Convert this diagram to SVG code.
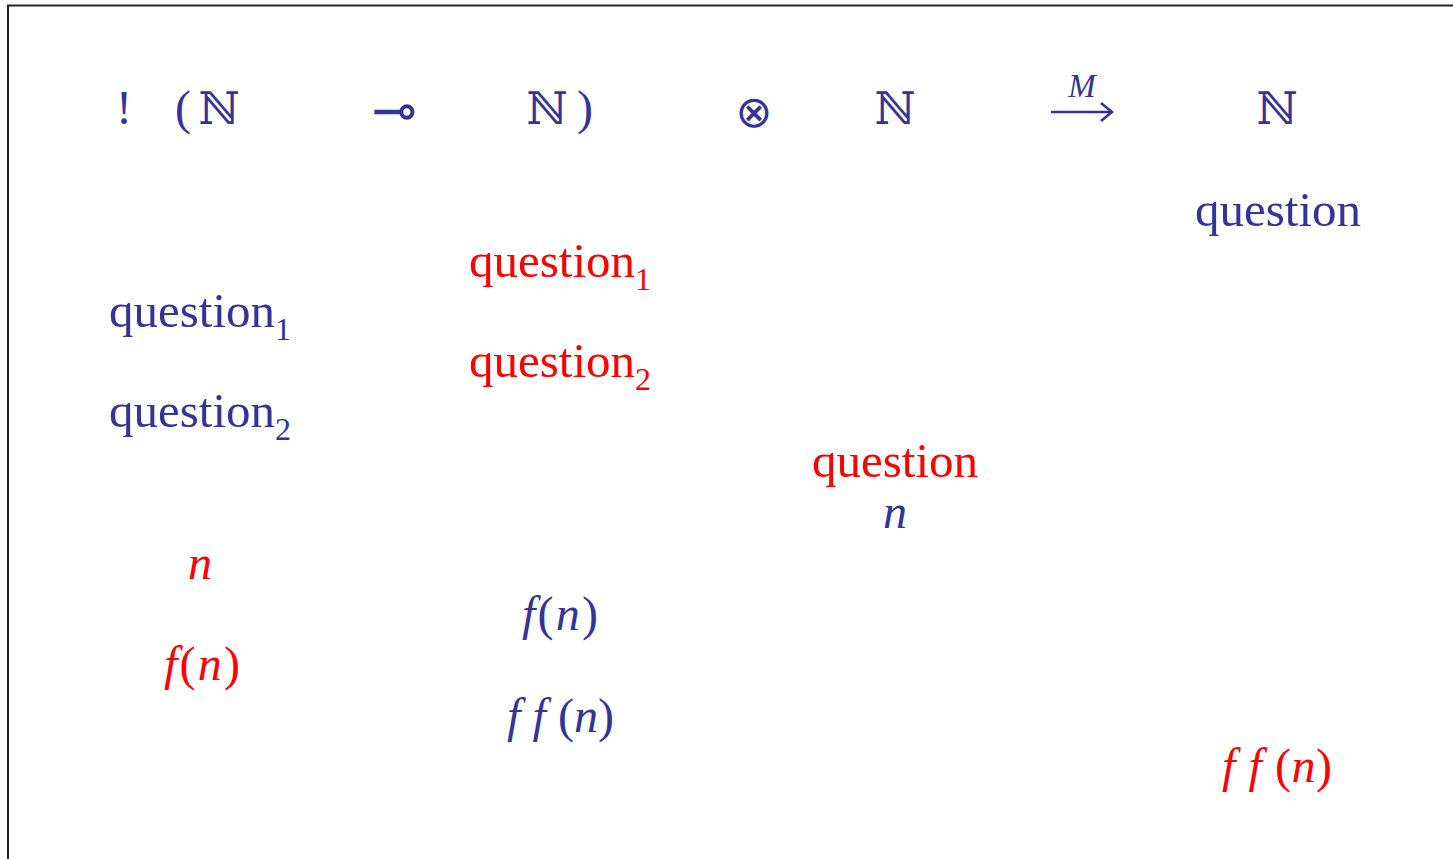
<svg xmlns="http://www.w3.org/2000/svg" width="1453" height="859" viewBox="0 0 1453 859">
<style>
.b{fill:#333399}
.r{fill:#ff0000}
.q{font-family:"Liberation Serif",serif;font-size:48px}
.m{font-family:"Liberation Serif",serif;font-size:48px}
.i{font-style:italic}
.s{font-size:32px}
.bb{font-family:"DejaVu Serif","DejaVu Sans",serif;font-size:45px}
.sym{font-family:"DejaVu Sans",sans-serif}
</style>
<rect x="8" y="5.5" width="1500" height="900" fill="#fff" stroke="#222" stroke-width="2"/>
<g id="header">
<text class="m b" x="124" y="124" text-anchor="middle">!</text>
<text class="m b" x="183" y="124" text-anchor="middle">(</text>
<text class="bb b" x="219" y="124" text-anchor="middle">ℕ</text>
<text class="sym b" x="394" y="129" text-anchor="middle" font-size="54">⊸</text>
<text class="bb b" x="547" y="124" text-anchor="middle">ℕ</text>
<text class="m b" x="585" y="124" text-anchor="middle">)</text>
<text class="sym b" x="754" y="127" text-anchor="middle" font-size="44">⊗</text>
<text class="bb b" x="895" y="124" text-anchor="middle">ℕ</text>
<text class="m b i" x="1082" y="97" text-anchor="middle" style="font-size:33px">M</text>
<text class="bb b" x="1277" y="124" text-anchor="middle">ℕ</text>
</g>
<g id="connectors">
<path d="M1051 112 H1112 M1101 103 L1112 112 L1101 121" fill="none" stroke="#333399" stroke-width="2.5"/>
</g>
<g id="col4">
<text class="q b" x="1195" y="226" textLength="166" lengthAdjust="spacingAndGlyphs">question</text>
<text class="m r" x="1222" y="782" textLength="110" lengthAdjust="spacing"><tspan class="i">f</tspan> <tspan class="i">f</tspan> (<tspan class="i">n</tspan>)</text>
</g>
<g id="col2">
<text class="q r" x="469" y="277"><tspan textLength="166" lengthAdjust="spacingAndGlyphs">question</tspan><tspan class="s" dy="13">1</tspan></text>
<text class="q r" x="469" y="377"><tspan textLength="166" lengthAdjust="spacingAndGlyphs">question</tspan><tspan class="s" dy="13">2</tspan></text>
<text class="m b" x="522" y="630" textLength="76" lengthAdjust="spacing"><tspan class="i">f</tspan>(<tspan class="i">n</tspan>)</text>
<text class="m b" x="507" y="732" textLength="107" lengthAdjust="spacing"><tspan class="i">f</tspan> <tspan class="i">f</tspan> (<tspan class="i">n</tspan>)</text>
</g>
<g id="col1">
<text class="q b" x="109" y="327"><tspan textLength="166" lengthAdjust="spacingAndGlyphs">question</tspan><tspan class="s" dy="13">1</tspan></text>
<text class="q b" x="109" y="427"><tspan textLength="166" lengthAdjust="spacingAndGlyphs">question</tspan><tspan class="s" dy="13">2</tspan></text>
<text class="m r i" x="200" y="579" text-anchor="middle">n</text>
<text class="m r" x="164" y="680" textLength="76" lengthAdjust="spacing"><tspan class="i">f</tspan>(<tspan class="i">n</tspan>)</text>
</g>
<g id="col3">
<text class="q r" x="812" y="477" textLength="166" lengthAdjust="spacingAndGlyphs">question</text>
<text class="m b i" x="895" y="528" text-anchor="middle">n</text>
</g>
</svg>
